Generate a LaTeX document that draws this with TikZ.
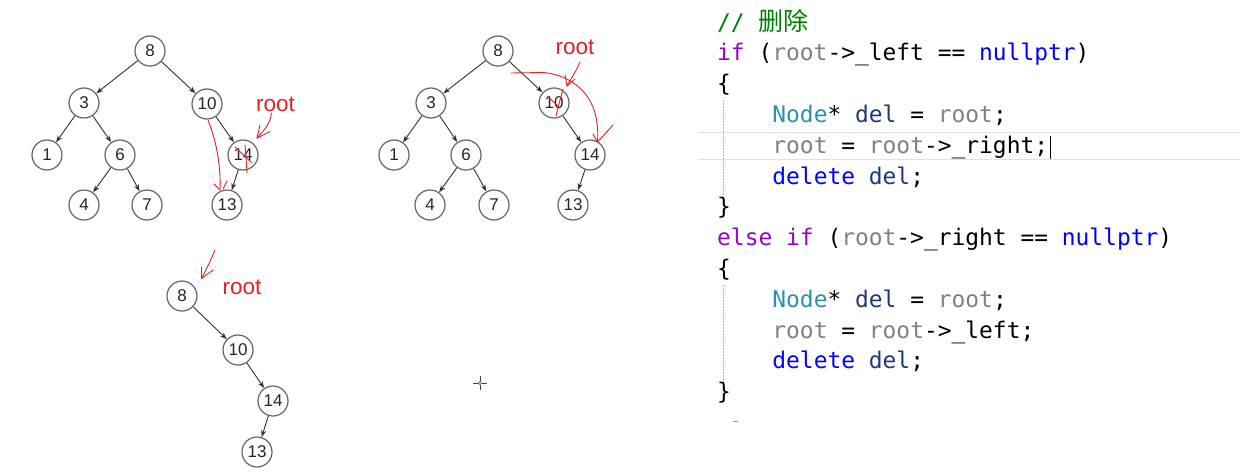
\documentclass[tikz,border=0pt]{standalone}
\usepackage{fontspec}
\setmainfont{Liberation Sans}
\newfontfamily\codefont{DejaVu Sans Mono}
\newfontfamily\cjkfont{Noto Sans CJK SC}
\usetikzlibrary{arrows.meta}

% editor colours
\definecolor{ccomment}{RGB}{0,128,0}
\definecolor{ckeyword}{RGB}{143,8,196}
\definecolor{cparam}{RGB}{128,128,128}
\definecolor{cblue}{RGB}{0,0,255}
\definecolor{ctype}{RGB}{43,145,175}
\definecolor{clocal}{RGB}{31,55,127}
\definecolor{cmarker}{RGB}{181,126,220}
\definecolor{pen}{RGB}{225,35,40}
\definecolor{ringgrey}{RGB}{100,100,100}
\definecolor{edgegrey}{RGB}{50,50,50}

\newcommand\tkw[1]{\textcolor{ckeyword}{#1}}
\newcommand\tpar[1]{\textcolor{cparam}{#1}}
\newcommand\tblu[1]{\textcolor{cblue}{#1}}
\newcommand\ttyp[1]{\textcolor{ctype}{#1}}
\newcommand\tloc[1]{\textcolor{clocal}{#1}}

\tikzset{
  bstnode/.style={circle, draw=ringgrey, line width=1.2pt, minimum size=30pt,
    inner sep=0pt, font=\fontsize{17}{17}\selectfont, text=black!85},
  link/.style={draw=edgegrey, line width=0.9pt, -{Stealth[length=7pt,width=5pt]}},
  redpen/.style={draw=pen, line width=0.9pt, line cap=round, line join=round},
  rootlabel/.style={text=pen, font=\fontsize{22.5}{22.5}\selectfont, inner sep=0pt},
  codeline/.style={anchor=base west, inner sep=0pt,
    font=\codefont\fontsize{22.9}{22.9}\selectfont},
  guide/.style={draw=black!30, line width=0.7pt, dash pattern=on 1.5pt off 1.5pt},
}

\begin{document}
\begin{tikzpicture}[x=1pt, y=-1pt]
\useasboundingbox (0,0) rectangle (1246,471);
\fill[white] (0,0) rectangle (1246,471);

% ---------- first tree ----------
\node[bstnode] (a8)  at (150,51)  {8};
\node[bstnode] (a3)  at (84,103)  {3};
\node[bstnode] (a10) at (207,104) {10};
\node[bstnode] (a1)  at (47,155)  {1};
\node[bstnode] (a6)  at (120,155) {6};
\node[bstnode] (a14) at (243,155) {14};
\node[bstnode] (a4)  at (84,205)  {4};
\node[bstnode] (a7)  at (147,205) {7};
\node[bstnode] (a13) at (227,205) {13};
\draw[link] (a8) -- (a3);
\draw[link] (a8) -- (a10);
\draw[link] (a3) -- (a1);
\draw[link] (a3) -- (a6);
\draw[link] (a6) -- (a4);
\draw[link] (a6) -- (a7);
\draw[link] (a10) -- (a14);
\draw[link] (a14) -- (a13);

\node[rootlabel] (ra) at (275.5,104) {root};
\coordinate (raTip) at (257,138);
\draw[redpen] (271.5,113) .. controls (270,125) and (263,131) .. (raTip);
\draw[redpen] (260,125) -- (raTip) -- (270,131.5);
% strike-out over 14
\draw[redpen] (235,147) -- (252,163);
\draw[redpen] (245,145) .. controls (246,155) and (246.5,165) .. (247,173);
% bypass from 10 to 13
\coordinate (aHook) at (220,190);
\draw[redpen] (208,120) .. controls (216,140) and (221,165) .. (aHook);
\draw[redpen] (214,184) -- (aHook);
\draw[redpen] (223,189) -- (227,181);

% ---------- second tree ----------
\node[bstnode] (b8)  at (498,51)  {8};
\node[bstnode] (b3)  at (431,103) {3};
\node[bstnode] (b10) at (554,103) {10};
\node[bstnode] (b1)  at (394,155) {1};
\node[bstnode] (b6)  at (466,155) {6};
\node[bstnode] (b14) at (590,155) {14};
\node[bstnode] (b4)  at (430,205) {4};
\node[bstnode] (b7)  at (494,205) {7};
\node[bstnode] (b13) at (573,205) {13};
\draw[link] (b8) -- (b3);
\draw[link] (b8) -- (b10);
\draw[link] (b3) -- (b1);
\draw[link] (b3) -- (b6);
\draw[link] (b6) -- (b4);
\draw[link] (b6) -- (b7);
\draw[link] (b10) -- (b14);
\draw[link] (b14) -- (b13);

\node[rootlabel] (rb) at (575,47) {root};
\coordinate (rbTip) at (567,86);
\draw[redpen] (580,62) .. controls (576,72) and (570,80) .. (rbTip);
\draw[redpen] (565,75) -- (rbTip) -- (575,79);
% strike-out over 10
\draw[redpen] (563,89) .. controls (560,100) and (558,108) .. (556,116);
\draw[redpen] (547,96) -- (558,106);
% re-link 8 to 14
\coordinate (bHook) at (597.5,142);
\draw[redpen] (511,73) -- (543,72.5) .. controls (565,74) and (590,88) .. (596,117)
  .. controls (598,128) and (598,135) .. (bHook);
\draw[redpen] (593,134) -- (bHook) -- (613,125);

% ---------- resulting chain ----------
\node[bstnode] (c8)  at (182,296) {8};
\node[bstnode] (c10) at (238,350) {10};
\node[bstnode] (c14) at (273,401) {14};
\node[bstnode] (c13) at (257,452) {13};
\draw[link] (c8) -- (c10);
\draw[link] (c10) -- (c14);
\draw[link] (c14) -- (c13);

\node[rootlabel] (rc) at (242,287) {root};
\coordinate (rcTip) at (201.5,278.5);
\draw[redpen] (215,250) .. controls (210,262) and (205,272) .. (rcTip);
\draw[redpen] (201.5,267) -- (rcTip) -- (213,270);

% mouse cursor cross
\draw[black!75, line width=1pt] (473,383) -- (478,383) (482,383) -- (487,383)
  (480,376) -- (480,381) (480,385) -- (480,390);
\draw[black!65, line width=0.7pt] (480,383) circle (1.6);

% ---------- code listing ----------
% current-line highlight and caret
\draw[black!12, line width=1.6pt] (698,132.5) -- (1240,132.5);
\draw[black!12, line width=1.6pt] (698,159.5) -- (1240,159.5);
\draw[black, line width=0.9pt] (1050.5,136) -- (1050.5,159);
% indent guides
\draw[guide] (723,100) -- (723,200);
\draw[guide] (723,285) -- (723,385);

\node[codeline, text=ccomment] (l0) at (717,30.1) {//~{\cjkfont\fontsize{25}{25}\selectfont 删除}};
\node[codeline] (l1) at (717,60.9) {\tkw{if} (\tpar{root}->\_left == \tblu{nullptr})};
\node[codeline] (l2) at (717,91.7) {\{};
\node[codeline] (l3) at (772.2,122.5) {\ttyp{Node}* \tloc{del} = \tpar{root};};
\node[codeline] (l4) at (772.2,153.3) {\tpar{root} = \tpar{root}->\_right;};
\node[codeline] (l5) at (772.2,184.1) {\tblu{delete} \tloc{del};};
\node[codeline] (l6) at (717,214.9) {\}};
\node[codeline] (l7) at (717,245.7) {\tkw{else} \tkw{if} (\tpar{root}->\_right == \tblu{nullptr})};
\node[codeline] (l8) at (717,276.5) {\{};
\node[codeline] (l9) at (772.2,307.3) {\ttyp{Node}* \tloc{del} = \tpar{root};};
\node[codeline] (l10) at (772.2,338.1) {\tpar{root} = \tpar{root}->\_left;};
\node[codeline] (l11) at (772.2,368.9) {\tblu{delete} \tloc{del};};
\node[codeline] (l12) at (717,399.7) {\}};
\draw[cmarker, line width=1.2pt] (732.5,421.5) -- (738,421.5);
\end{tikzpicture}
\end{document}
